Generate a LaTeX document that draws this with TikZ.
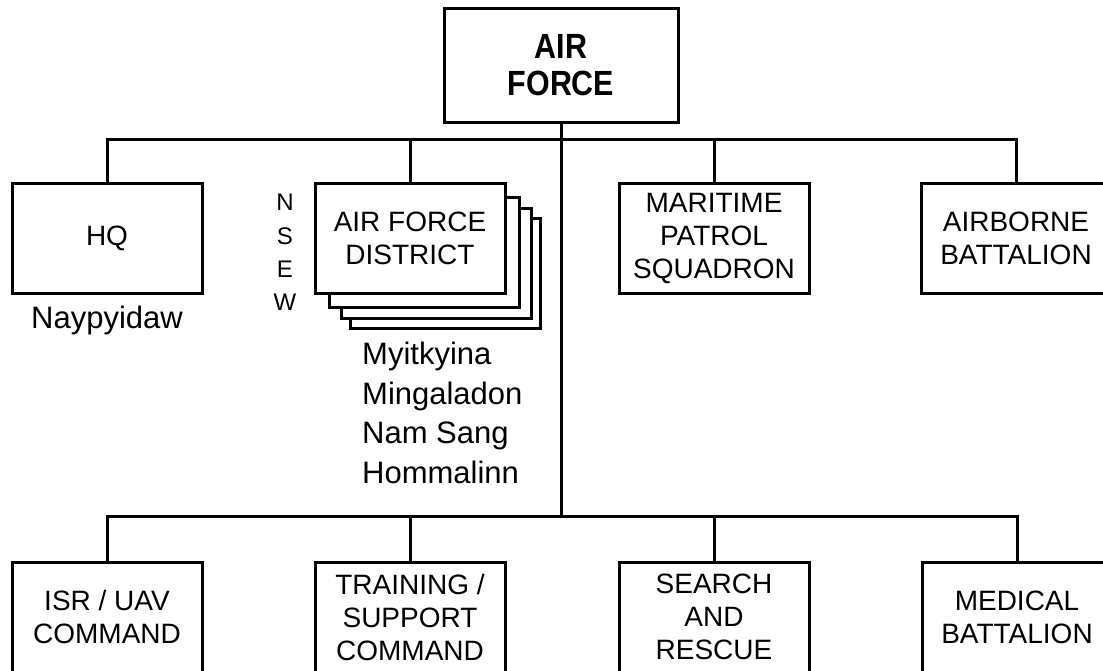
\documentclass[tikz,border=0pt]{standalone}
\usepackage{fontspec}
\setmainfont{Liberation Sans}
\newfontfamily\titlefont{Liberation Sans Bold}[FakeStretch=0.87]
\begin{document}
\begin{tikzpicture}[x=1pt,y=-1pt,
  unit/.style={draw=black,line width=3pt,fill=white,minimum width=190pt,minimum height=110pt,inner sep=0pt,align=center,font=\fontsize{28}{33}\selectfont},
  topbox/.style={draw=black,line width=3pt,fill=white,minimum width=234pt,minimum height=114pt,inner sep=0pt,align=center,font=\fontsize{35}{37}\titlefont},
  ghost/.style={draw=black,line width=3pt,fill=white,minimum width=190pt,minimum height=110pt,inner sep=0pt},
  lbl/.style={inner sep=0pt,font=\fontsize{31}{39.5}\selectfont},
  dirlbl/.style={inner sep=0pt,font=\fontsize{24}{24}\selectfont},
  conn/.style={line width=3pt,draw=black}]
\useasboundingbox (0,0) rectangle (1103,670);
\clip (0,0) rectangle (1103,670);
% top
\node[topbox] (af) at (561,65) {AIR\\FORCE};
% top row
\node[unit] (hq) at (107,238.5) {HQ};
\node[ghost] (d3) at (445,273.5) {};
\node[ghost] (d2) at (436,263.5) {};
\node[ghost] (d1) at (424,252.5) {};
\node[unit] (dist) at (410,238.5) {AIR FORCE\\DISTRICT};
\node[unit] (mar) at (714,238.5) {MARITIME\\PATROL\\SQUADRON};
\node[unit] (ab) at (1016,238.5) {AIRBORNE\\BATTALION};
% bottom row
\node[unit] (isr) at (107,617) {ISR / UAV\\COMMAND};
\node[unit] (trn) at (410,617) {TRAINING /\\SUPPORT\\COMMAND};
\node[unit] (sar) at (714,617) {SEARCH\\AND\\RESCUE};
\node[unit] (med) at (1017,617) {MEDICAL\\BATTALION};
% labels
\node[lbl] (nay) at (107,320) {Naypyidaw};
\node[lbl,anchor=north west,align=left] (bases) at (362,342) {Myitkyina\\Mingaladon\\Nam Sang\\Hommalinn};
\node[dirlbl] (dn) at (285,202) {N};
\node[dirlbl] (ds) at (285,236) {S};
\node[dirlbl] (de) at (285,269) {E};
\node[dirlbl] (dw) at (285,302) {W};
% connectors
\coordinate (jt) at (561,139);
\coordinate (jb) at (561,516);
\draw[conn] (af.south) -- (jb);
\draw[conn] (hq.north) |- (jt) -| (ab.north);
\draw[conn] (jt) -| (dist.north);
\draw[conn] (jt) -| (mar.north);
\draw[conn] (isr.north) |- (jb) -| (med.north);
\draw[conn] (jb) -| (trn.north);
\draw[conn] (jb) -| (sar.north);
\end{tikzpicture}
\end{document}
